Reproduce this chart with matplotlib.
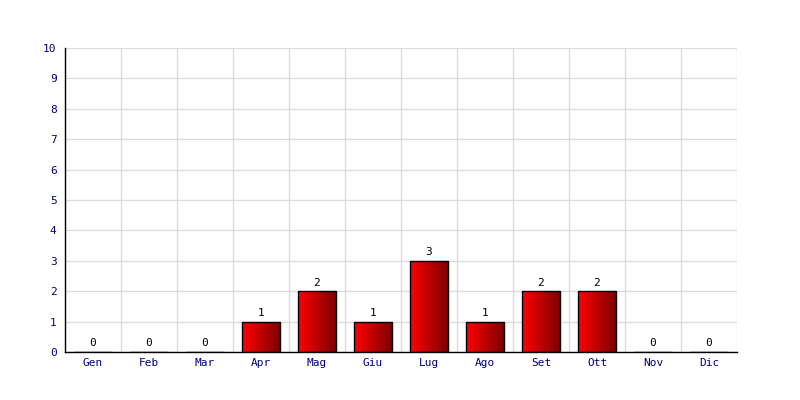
import numpy as np
import matplotlib.pyplot as plt
from matplotlib.colors import LinearSegmentedColormap

mesi = ['Gen', 'Feb', 'Mar', 'Apr', 'Mag', 'Giu', 'Lug', 'Ago', 'Set', 'Ott', 'Nov', 'Dic']
valori = [0, 0, 0, 1, 2, 1, 3, 1, 2, 2, 0, 0]

plt.rcParams['font.family'] = ['DejaVu Sans Mono']

fig = plt.figure(figsize=(8, 4), dpi=100)
ax = fig.add_axes([0.08125, 0.12, 0.84, 0.76])

x = np.arange(len(mesi))
barre = ax.bar(x, valori, width=0.68, facecolor='none', edgecolor='black', linewidth=1, zorder=3)

# gradiente rosso -> rosso scuro dentro ogni barra
cmap = LinearSegmentedColormap.from_list('rosso', ['#ff0000', '#7a0000'])
grad = np.linspace(0, 1, 256).reshape(1, -1)
for b in barre:
    h = b.get_height()
    if h <= 0:
        continue
    x0 = b.get_x()
    im = ax.imshow(grad, cmap=cmap, aspect='auto', extent=[x0, x0 + b.get_width(), 0, h], zorder=2)
    im.set_clip_path(b)

for xi, v in zip(x, valori):
    ax.text(xi, v + 0.12, str(v), ha='center', va='bottom', fontsize=8, color='black', zorder=4)

ax.set_xlim(-0.5, len(mesi) - 0.5)
ax.set_ylim(0, 10)
ax.set_yticks(range(11))
ax.set_xticks(x)
ax.set_xticklabels(mesi)
ax.set_xticks(np.arange(-0.5, len(mesi), 1), minor=True)
ax.grid(True, which='minor', axis='x', color='#dddddd', linewidth=1)
ax.grid(True, which='major', axis='y', color='#dddddd', linewidth=1)
ax.set_axisbelow(True)
ax.tick_params(which='both', length=0)
ax.tick_params(axis='both', labelsize=8, labelcolor='#000080')
ax.tick_params(axis='y', pad=6)
ax.tick_params(axis='x', pad=4)

ax.spines['top'].set_visible(False)
ax.spines['right'].set_visible(False)
ax.spines['left'].set_linewidth(1)
ax.spines['bottom'].set_linewidth(1)

fig.savefig('out.png', dpi=100)
